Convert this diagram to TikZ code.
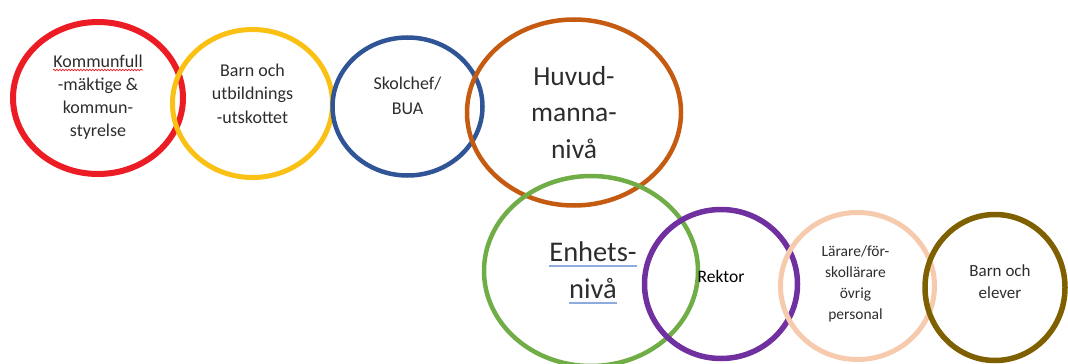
\documentclass[tikz,border=0pt]{standalone}
\usepackage{fontspec}
\setmainfont{Carlito}
\usetikzlibrary{shapes.geometric}
\usetikzlibrary{decorations.pathmorphing}
\definecolor{kfred}{RGB}{236,28,36}
\definecolor{bugold}{RGB}{250,192,20}
\definecolor{scblue}{RGB}{47,85,151}
\definecolor{hmbrown}{RGB}{197,90,17}
\definecolor{engreen}{RGB}{112,173,71}
\definecolor{rkpurple}{RGB}{112,48,160}
\definecolor{lppeach}{RGB}{246,203,173}
\definecolor{elolive}{RGB}{127,96,0}
\definecolor{txtgray}{RGB}{45,45,45}
\definecolor{ulblue}{RGB}{143,170,220}
\newsavebox{\ulbox}
\newcommand{\blueline}[1]{\sbox{\ulbox}{#1}\rlap{\color{ulblue}\rule[-6pt]{\wd\ulbox}{2pt}}\usebox{\ulbox}}

\begin{document}
\begin{tikzpicture}[x=1pt, y=-1pt,
	ring/.style={ellipse, draw=#1, line width=5pt, inner sep=0pt},
	txt/.style={align=center, text=txtgray, inner sep=0pt}]

	\useasboundingbox (0,0) rectangle (1068,364);

	% upper row
	\node[ring=kfred, line width=6pt, minimum width=170pt, minimum height=152pt] (kommun) at (98,98) {};
	\node[ring=bugold, minimum width=160pt, minimum height=148pt] (bun) at (252.5,103.5) {};
	\node[ring=scblue, line width=4.5pt, minimum width=150pt, minimum height=138pt] (skolchef) at (407.5,106.5) {};
	\node[ring=hmbrown, line width=4.5pt, minimum width=214pt, minimum height=186pt] (huvudman) at (574,112.5) {};

	% lower row
	\node[ring=engreen, line width=4.5pt, minimum width=214pt, minimum height=190pt] (enhet) at (591,271) {};
	\node[ring=rkpurple, line width=5.5pt, minimum width=153pt, minimum height=149pt] (rektor) at (721,284) {};
	\node[ring=lppeach, minimum width=154pt, minimum height=147pt] (personal) at (857.5,286) {};
	\node[ring=elolive, line width=5.5pt, minimum width=140pt, minimum height=146pt] (elever) at (995,287.5) {};

	% texts
	\node[txt, font={\fontsize{18}{23}\selectfont}] (kommun-txt) at ([yshift=1pt]kommun) {Kommunfull\\-mäktige \&\\kommun-\\styrelse};
	\node[txt, font={\fontsize{18}{23.5}\selectfont}] (bun-txt) at ([yshift=10pt]bun) {Barn och\\utbildnings\\-utskottet};
	\node[txt, font={\fontsize{18}{25}\selectfont}] (skolchef-txt) at ([yshift=11pt]skolchef) {Skolchef/\\BUA};
	\node[txt, font={\fontsize{27.5}{36.5}\selectfont}] (huvudman-txt) at (huvudman) {Huvud-\\manna-\\nivå};
	\node[txt, font={\fontsize{28.5}{37}\selectfont}] (enhet-txt) at ([xshift=2pt,yshift=-2pt]enhet) {\blueline{Enhets-}\\\blueline{nivå}};
	\node[txt, text=black, font={\fontsize{17.5}{21}\selectfont}] (rektor-txt) at ([yshift=8pt]rektor) {Rektor};
	\node[txt, font={\fontsize{15.5}{21}\selectfont}] (personal-txt) at ([xshift=-2pt,yshift=2pt]personal) {Lärare/för-\\skollärare\\övrig\\personal};
	\node[txt, font={\fontsize{17}{22}\selectfont}] (elever-txt) at ([xshift=5pt,yshift=6pt]elever) {Barn och\\elever};

	\draw[kfred, line width=0.7pt, decorate, decoration={snake, amplitude=0.8pt, segment length=3pt}] (53,70) -- (143,70);

\end{tikzpicture}
\end{document}
